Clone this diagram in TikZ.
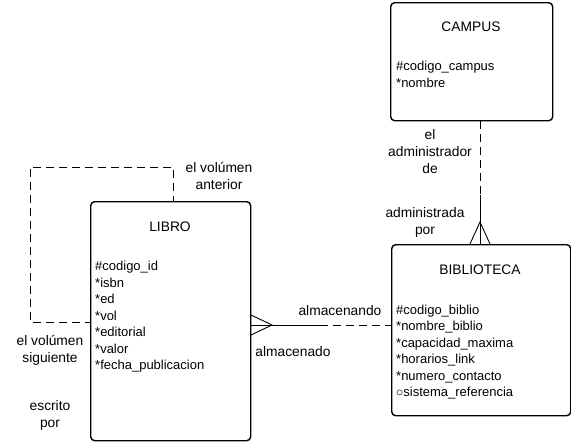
\documentclass[tikz,border=0pt]{standalone}
\usepackage{fontspec}
\setmainfont{Liberation Sans}
\newcommand{\opcirc}{\raisebox{0.6pt}{\fontsize{14.4}{14}\selectfont$\circ$}}
\begin{document}
\begin{tikzpicture}[x=1pt,y=-1pt,
  entity/.style={draw, line width=1.4pt, rounded corners=4pt, inner sep=0pt, anchor=north west},
  title/.style={font=\fontsize{13.8}{16}\selectfont, inner sep=0pt},
  attrs/.style={font=\fontsize{13}{16.5}\selectfont, align=left, anchor=north west, inner sep=0pt},
  lbl/.style={font=\fontsize{13.8}{17}\selectfont, align=center, inner sep=0pt},
  conn/.style={line width=0.9pt},
  dashconn/.style={line width=0.9pt, dash pattern=on 8pt off 5pt}]
\useasboundingbox (0,0) rectangle (571,442);
% boxes
\node[entity, minimum width=162pt, minimum height=118pt] (campus) at (390,2) {};
\node[entity, minimum width=179pt, minimum height=171pt] (biblio) at (391,244) {};
\node[entity, minimum width=160pt, minimum height=239pt] (libro) at (90,201) {};
% titles
\node[title] (tcampus) at (471,27) {CAMPUS};
\node[title] (tbiblio) at (480,270) {BIBLIOTECA};
\node[title] (tlibro) at (170,227) {LIBRO};
% attributes
\node[attrs] (acampus) at (396,61) {\#codigo\_campus\\*nombre};
\node[attrs] (abiblio) at (396,304.5) {\#codigo\_biblio\\*nombre\_biblio\\*capacidad\_maxima\\*horarios\_link\\*numero\_contacto\\\opcirc sistema\_referencia};
\node[attrs] (alibro) at (95,261) {\#codigo\_id\\*isbn\\*ed\\*vol\\*editorial\\*valor\\*fecha\_publicacion};
% labels
\node[lbl] (l1) at (430,152) {el\\administrador\\de};
\node[lbl] (l2) at (425,222.5) {administrada\\por};
\node[lbl] (l3) at (340,311) {almacenando};
\node[lbl] (l4) at (293,352) {almacenado};
\node[lbl] (l5) at (219,176) {el volúmen\\anterior};
\node[lbl] (l6) at (50,350) {el volúmen\\siguiente};
\node[lbl] (l7) at (50,415) {escrito\\por};
% campus - biblioteca
\coordinate (cb1) at (campus.south -| 480,0);
\coordinate (cb2) at (480,195);
\coordinate (cb3) at (biblio.north -| 480,0);
\coordinate (cbapex) at (480,222);
\draw[dashconn] (cb1) -- (cb2);
\draw[conn] (cb2) -- (cb3);
\draw[conn] (470,244) -- (cbapex) -- (490,244);
% libro - biblioteca
\coordinate (lb1) at (libro.east |- 0,325);
\coordinate (lb2) at (320,325);
\coordinate (lb3) at (biblio.west |- 0,325);
\draw[conn] (lb1) -- (lb2);
\draw[dashconn] (lb2) -- (lb3);
\draw[conn] (250,314.5) -- (272,325) -- (250,335.5);
% self loop
\coordinate (s1) at (libro.north -| 173,0);
\coordinate (s2) at (173,167);
\coordinate (s3) at (30,167);
\coordinate (s4) at (30,322);
\coordinate (s5) at (libro.west |- 0,322);
\draw[dashconn, dash phase=3pt] (s1) -- (s2) -- (s3) -- (s4) -- (s5);
\end{tikzpicture}
\end{document}
